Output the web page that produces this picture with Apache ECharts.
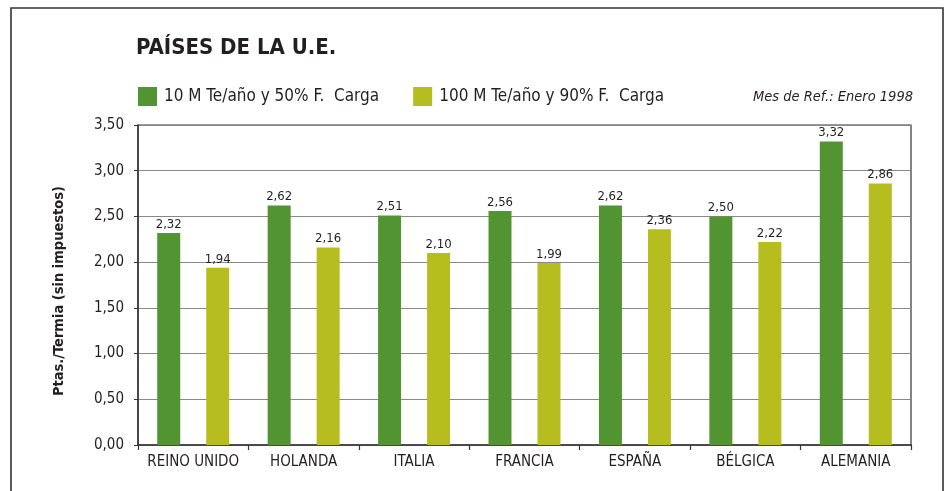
<!DOCTYPE html>
<html>
<head>
<meta charset="utf-8">
<script src="https://cdn.jsdelivr.net/npm/echarts@6/dist/echarts.min.js"></script>
<style>
html,body{margin:0;padding:0;background:#fff;}
#c{width:952px;height:491px;}
</style>
</head>
<body>
<div id="c"></div>
<script>
// Precio del gas natural en países de la U.E. (Ptas./Termia, sin impuestos)
const paises = ['REINO UNIDO', 'HOLANDA', 'ITALIA', 'FRANCIA', 'ESPAÑA', 'BÉLGICA', 'ALEMANIA'];
const serie10M = [2.32, 2.62, 2.51, 2.56, 2.62, 2.50, 3.32];
const serie100M = [1.94, 2.16, 2.10, 1.99, 2.36, 2.22, 2.86];
const nombre10M = '10 M Te/año y 50% F.  Carga';
const nombre100M = '100 M Te/año y 90% F.  Carga';
const ticksY = [0, 0.5, 1, 1.5, 2, 2.5, 3, 3.5];

const FONT = '"Liberation Sans Narrow", "DejaVu Sans Condensed", "Liberation Sans", sans-serif';
const VERDE = '#529432';
const AMARILLO = '#b5be1e';

const fmt = v => v.toFixed(2).replace('.', ',');

const chart = echarts.init(document.getElementById('c'), null, {renderer: 'canvas'});
chart.setOption({
  animation: false,
  backgroundColor: '#fff',
  textStyle: {fontFamily: FONT},
  title: {
    text: 'PAÍSES DE LA U.E.',
    left: 136, top: 37, padding: 0,
    textStyle: {fontFamily: FONT, fontSize: 22, fontWeight: 'bold', color: '#231f20'}
  },
  legend: {
    left: 138, top: 87, padding: 0,
    itemWidth: 19, itemHeight: 19, itemGap: 34,
    icon: 'rect',
    textStyle: {fontFamily: FONT, fontSize: 17, color: '#231f20', padding: [0, 0, 0, 2]},
    data: [nombre10M, nombre100M]
  },
  graphic: [
    {
      type: 'rect',
      shape: {x: 11, y: 8, width: 932, height: 500},
      style: {fill: 'none', stroke: '#333', lineWidth: 1.6},
      silent: true
    },
    {
      type: 'text',
      right: 39, top: 90,
      style: {text: 'Mes de Ref.: Enero 1998', fontFamily: FONT, fontSize: 14.5, fontStyle: 'italic', fill: '#231f20'}
    }
  ],
  grid: {
    left: 138, right: 41, top: 125, bottom: 46,
    show: true, borderColor: '#333', borderWidth: 1.2, backgroundColor: 'transparent'
  },
  xAxis: {
    type: 'category',
    data: paises,
    axisLine: {lineStyle: {color: '#333', width: 1.5}},
    axisTick: {show: true, interval: 0, length: 5, lineStyle: {color: '#333', width: 1.2}},
    axisLabel: {interval: 0, fontFamily: FONT, fontSize: 15, color: '#231f20', margin: 10}
  },
  yAxis: {
    type: 'value',
    min: ticksY[0], max: ticksY[ticksY.length - 1], interval: 0.5,
    name: 'Ptas./Termia (sin impuestos)',
    nameLocation: 'middle', nameGap: 71, nameRotate: 90,
    nameTextStyle: {fontFamily: FONT, fontSize: 14.5, fontWeight: 'bold', color: '#231f20', padding: [0, 12, 0, 0]},
    axisLine: {show: true, lineStyle: {color: '#333', width: 1.5}},
    axisTick: {show: true, length: 4, lineStyle: {color: '#333'}},
    axisLabel: {fontFamily: FONT, fontSize: 15, color: '#231f20', margin: 14, formatter: v => fmt(v)},
    splitLine: {lineStyle: {color: '#888', width: 1.2}}
  },
  series: [
    {
      name: nombre10M, type: 'bar', data: serie10M,
      barWidth: 23, barGap: '113%',
      itemStyle: {color: VERDE},
      label: {show: true, position: 'top', distance: 2, formatter: p => fmt(p.value),
        fontFamily: FONT, fontSize: 13, color: '#231f20'}
    },
    {
      name: nombre100M, type: 'bar', data: serie100M,
      barWidth: 23,
      itemStyle: {color: AMARILLO},
      label: {show: true, position: 'top', distance: 2, formatter: p => fmt(p.value),
        fontFamily: FONT, fontSize: 13, color: '#231f20'}
    }
  ]
});
</script>
</body>
</html>
